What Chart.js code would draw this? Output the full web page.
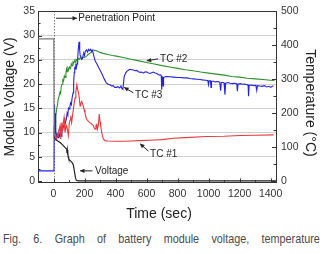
<!DOCTYPE html>
<html><head><meta charset="utf-8">
<script src="https://cdn.jsdelivr.net/npm/chart.js@4.4.0/dist/chart.umd.min.js"></script>
<style>
html,body{margin:0;padding:0;background:#fff;width:323px;height:254px;overflow:hidden;}
#wrap{position:absolute;left:0;top:0;width:323px;height:226px;}
#cap{position:absolute;left:3px;top:231px;width:396px;font-family:"Liberation Sans",Arial,sans-serif;font-size:13.5px;color:#4a4a4a;transform:scaleX(0.8);transform-origin:0 0;text-align:justify;text-align-last:justify;line-height:16px;}
</style></head>
<body>
<div id="wrap"><canvas id="c" width="323" height="226"></canvas></div>
<div id="cap">Fig. 6. Graph of battery module voltage, temperature</div>
<script>
// ---------- data ----------
const timeTicks = [0, 200, 400, 600, 800, 1000, 1200, 1400];
const voltageTicks = [0, 5, 10, 15, 20, 25, 30, 35];
const tempTicks = [0, 100, 200, 300, 400, 500];
const penetrationTime = 3;

const voltageTime = [-100, 2, 4, 15, 30, 45, 60, 75, 85, 87, 89, 91, 93, 95, 98, 105, 118, 128, 135, 142, 148, 160, 1435];
const voltageValues = [29.3, 29.3, 9.0, 8.5, 8.2, 7.9, 7.4, 6.9, 6.6, 5.8, 6.4, 5.4, 6.0, 5.0, 4.6, 4.3, 3.9, 3.3, 2.0, 0.6, 0.15, 0.05, 0.05];

const tc1Time = [5,10,15,21,26,31,36,42,46,50,53,59,64,68,74,79,85,90,96,102,107,111,117,122,128,133,139,144,150,156,160,165,171,176,182,187,192,198,203,208,214,225,235,246,257,262,268,274,279,283,289,295,300,304,311,316,321,332,350,400,450,500,560,650,700,773,850,989,1100,1204,1300,1420];
const tc1Temp = [134,134,128,124,138,134,150,163,124,150,172,153,175,187,143,155,163,150,134,172,180,192,172,190,211,228,245,262,284,270,262,250,221,228,235,228,221,210,201,190,182,176,172,168,163,158,153,165,167,153,163,197,175,163,143,132,124,119,118,117,117,118,119,121,122,126,128,131,132,134,135,136];

const tc2Time = [5,10,13,16,20,25,30,36,42,46,50,55,60,65,70,75,80,84,88,93,98,104,110,115,120,125,130,135,140,145,150,158,165,172,180,190,200,213,222,234,245,256,265,278,290,300,320,352,380,406,450,500,550,600,650,700,750,800,850,900,950,1000,1050,1100,1150,1200,1250,1300,1350,1400,1425];
const tc2Temp = [130,140,160,190,212,222,241,250,262,258,279,285,298,295,310,305,318,330,322,333,328,336,332,345,340,350,347,355,350,358,356,361,358,363,361,365,364,368,372,376,380,386,385,384,381,379,376,373,370,368,364,359,354,349,345,340,336,332,328,325,321,318,315,312,308,306,303,301,299,297,296];

const tc3Time = [-100,3,4,6,8,10,12,15,19,24,29,34,39,44,49,54,59,63,68,72,77,83,88,92,97,102,106,110,115,120,126,130,134,137,140,144,148,152,156,160,165,169,172,176,181,187,192,195,200,205,213,220,226,234,240,246,250,256,262,270,278,290,299,310,320,330,341,352,363,375,385,395,406,415,427,435,442,447,452,456,465,473,485,494,505,516,526,537,548,559,570,580,591,602,612,623,633,644,655,666,676,683,690,695,698,700,704,707,710,720,730,750,773,800,816,840,859,880,902,925,945,960,980,995,1000,1003,1012,1016,1019,1030,1045,1060,1072,1078,1082,1090,1100,1106,1110,1125,1140,1155,1170,1182,1186,1190,1205,1220,1235,1245,1255,1258,1262,1275,1290,1305,1311,1315,1330,1345,1360,1375,1390,1400,1410,1420];
const tc3Temp = [30,30,160,225,180,200,140,150,130,138,128,142,133,140,132,145,150,163,160,175,172,183,200,195,215,212,221,230,225,245,260,290,320,337,330,346,335,345,360,390,410,385,370,366,358,361,372,376,370,382,386,380,388,384,388,382,385,376,365,352,347,335,328,318,308,298,289,285,284,280,281,276,276,278,274,280,272,270,290,308,318,323,327,329,328,327,325,326,322,320,321,318,322,321,318,317,319,321,318,317,314,312,313,310,269,300,308,280,305,307,308,307,306,305,305,304,304,302,301,300,299,298,297,296,284,295,295,276,294,294,292,293,291,266,290,291,289,254,288,290,288,287,288,286,265,286,287,285,286,284,283,250,282,283,281,282,267,281,280,279,281,277,279,276,279,280];

// label positions (time, value on the given axis)
const notes = [
  {text: 'Penetration Point', axis: 'y',  text_at: [160, 33.57], from: [16, 33.57], to: [152, 33.57]},
  {text: 'TC #2',  axis: 'y2', text_at: [687, 360], from: [674, 360], to: [601, 354]},
  {text: 'TC #3',  axis: 'y2', text_at: [526, 253], from: [515, 260], to: [455, 276]},
  {text: 'TC #1',  axis: 'y2', text_at: [623, 80],  from: [612, 88],  to: [558, 110]},
  {text: 'Voltage', axis: 'y', text_at: [268, 1.93], from: [252, 2.1], to: [171, 2.1]}
];

// ---------- chart ----------
const FONT = '"Liberation Sans", Arial, sans-serif';
const zip = (xs, ys) => xs.map((x, i) => ({x: x, y: ys[i]}));

function arrow(ctx, x0, y0, x1, y1) {
  ctx.beginPath(); ctx.moveTo(x0, y0); ctx.lineTo(x1, y1); ctx.stroke();
  const a = Math.atan2(y1 - y0, x1 - x0), L = 4.5, W = 2.2;
  ctx.beginPath();
  ctx.moveTo(x1, y1);
  ctx.lineTo(x1 - L * Math.cos(a) + W * Math.sin(a), y1 - L * Math.sin(a) - W * Math.cos(a));
  ctx.lineTo(x1 - L * Math.cos(a) - W * Math.sin(a), y1 - L * Math.sin(a) + W * Math.cos(a));
  ctx.closePath(); ctx.fill();
}

const decor = {
  id: 'decor',
  beforeDatasetsDraw(chart) {
    const ctx = chart.ctx, a = chart.chartArea, x = chart.scales.x;
    const px = Math.round(x.getPixelForValue(penetrationTime)) + 0.5;
    ctx.save();
    ctx.strokeStyle = '#444'; ctx.lineWidth = 1; ctx.setLineDash([1, 2]);
    ctx.beginPath(); ctx.moveTo(px, a.top); ctx.lineTo(px, a.bottom); ctx.stroke();
    ctx.restore();
  },
  afterDraw(chart) {
    const ctx = chart.ctx, a = chart.chartArea, s = chart.scales;
    ctx.save();
    ctx.strokeStyle = '#333'; ctx.lineWidth = 1;
    // top frame
    ctx.beginPath(); ctx.moveTo(a.left, Math.round(a.top) + 0.5); ctx.lineTo(a.right, Math.round(a.top) + 0.5); ctx.stroke();
    // inward tick marks
    const mids = arr => arr.slice(0, -1).map((v, i) => (v + arr[i + 1]) / 2);
    ctx.beginPath();
    voltageTicks.forEach(v => { const p = Math.round(s.y.getPixelForValue(v)) + 0.5; ctx.moveTo(a.left, p); ctx.lineTo(a.left + 4, p); });
    mids(voltageTicks).forEach(v => { const p = Math.round(s.y.getPixelForValue(v)) + 0.5; ctx.moveTo(a.left, p); ctx.lineTo(a.left + 2.5, p); });
    tempTicks.forEach(v => { const p = Math.round(s.y2.getPixelForValue(v)) + 0.5; ctx.moveTo(a.right, p); ctx.lineTo(a.right - 4, p); });
    mids(tempTicks).forEach(v => { const p = Math.round(s.y2.getPixelForValue(v)) + 0.5; ctx.moveTo(a.right, p); ctx.lineTo(a.right - 2.5, p); });
    timeTicks.forEach(v => { const p = Math.round(s.x.getPixelForValue(v)) + 0.5; ctx.moveTo(p, a.bottom); ctx.lineTo(p, a.bottom - 4); });
    mids(timeTicks).forEach(v => { const p = Math.round(s.x.getPixelForValue(v)) + 0.5; ctx.moveTo(p, a.bottom); ctx.lineTo(p, a.bottom - 2.5); });
    ctx.stroke();
    // annotations
    ctx.fillStyle = '#222'; ctx.strokeStyle = '#222'; ctx.lineWidth = 1;
    ctx.font = '10px ' + FONT; ctx.textAlign = 'left'; ctx.textBaseline = 'middle';
    notes.forEach(n => {
      const ys = s[n.axis];
      ctx.fillText(n.text, s.x.getPixelForValue(n.text_at[0]), ys.getPixelForValue(n.text_at[1]));
      arrow(ctx, s.x.getPixelForValue(n.from[0]), ys.getPixelForValue(n.from[1]),
                 s.x.getPixelForValue(n.to[0]), ys.getPixelForValue(n.to[1]));
    });
    // axis titles
    ctx.fillStyle = '#222'; ctx.font = '14px ' + FONT; ctx.textAlign = 'center'; ctx.textBaseline = 'middle';
    const cy = (a.top + a.bottom) / 2;
    ctx.save(); ctx.translate(10, cy); ctx.rotate(-Math.PI / 2); ctx.fillText('Module Voltage (V)', 0, 0); ctx.restore();
    ctx.save(); ctx.translate(310, cy + 6); ctx.rotate(Math.PI / 2); ctx.fillText('Temperature (\u00B0C)', 0, 0); ctx.restore();
    ctx.fillText('Time (sec)', (a.left + a.right) / 2 + 2, a.bottom + 31.5);
    ctx.restore();
  }
};

const tickFont = {family: FONT, size: 10.5};
new Chart(document.getElementById('c'), {
  type: 'line',
  data: {
    datasets: [
      {label: 'TC #1', data: zip(tc1Time, tc1Temp), yAxisID: 'y2', borderColor: '#e8393c', borderWidth: 1.1, pointRadius: 0, tension: 0, order: 1},
      {label: 'TC #3', data: zip(tc3Time, tc3Temp), yAxisID: 'y2', borderColor: '#2323e0', borderWidth: 1.1, pointRadius: 0, tension: 0, order: 2},
      {label: 'TC #2', data: zip(tc2Time, tc2Temp), yAxisID: 'y2', borderColor: '#2e8f2e', borderWidth: 1.1, pointRadius: 0, tension: 0, order: 3},
      {label: 'Voltage', data: zip(voltageTime, voltageValues), yAxisID: 'y', borderColor: '#222', borderWidth: 1.2, pointRadius: 0, tension: 0, order: 0,
        segment: {borderColor: c => c.p0.parsed.x < penetrationTime ? '#777' : '#222'}}
    ]
  },
  options: {
    responsive: false, animation: false, devicePixelRatio: 1,
    layout: {padding: {top: 9, left: 0, right: 0, bottom: 0}},
    plugins: {legend: {display: false}, tooltip: {enabled: false}},
    scales: {
      x: {type: 'linear', min: -100, max: 1435, position: 'bottom',
        afterBuildTicks: sc => { sc.ticks = timeTicks.map(v => ({value: v})); },
        afterFit: sc => { sc.height = 43.5; },
        grid: {display: false, drawTicks: false}, border: {display: true, color: '#333', width: 1},
        ticks: {padding: 5, color: '#333', font: tickFont, maxRotation: 0, autoSkip: false, callback: v => String(v)}},
      y: {type: 'linear', min: -0.3, max: 35, position: 'left',
        afterBuildTicks: sc => { sc.ticks = voltageTicks.map(v => ({value: v})); },
        afterFit: sc => { sc.width = 38; },
        grid: {drawTicks: false, lineWidth: 1, color: c => (c.tick && c.tick.value > 0 && c.tick.value < 35) ? '#d0d0d0' : 'rgba(0,0,0,0)'},
        border: {display: true, color: '#333', width: 1},
        ticks: {padding: 3, color: '#333', font: tickFont, callback: v => String(v)}},
      y2: {type: 'linear', min: -500 * 0.3 / 35, max: 500, position: 'right',
        afterBuildTicks: sc => { sc.ticks = tempTicks.map(v => ({value: v})); },
        afterFit: sc => { sc.width = 47; },
        grid: {display: false, drawTicks: false}, border: {display: true, color: '#333', width: 1},
        ticks: {padding: 5, color: '#333', font: tickFont, callback: v => String(v)}}
    }
  },
  plugins: [decor]
});
</script>
</body></html>
